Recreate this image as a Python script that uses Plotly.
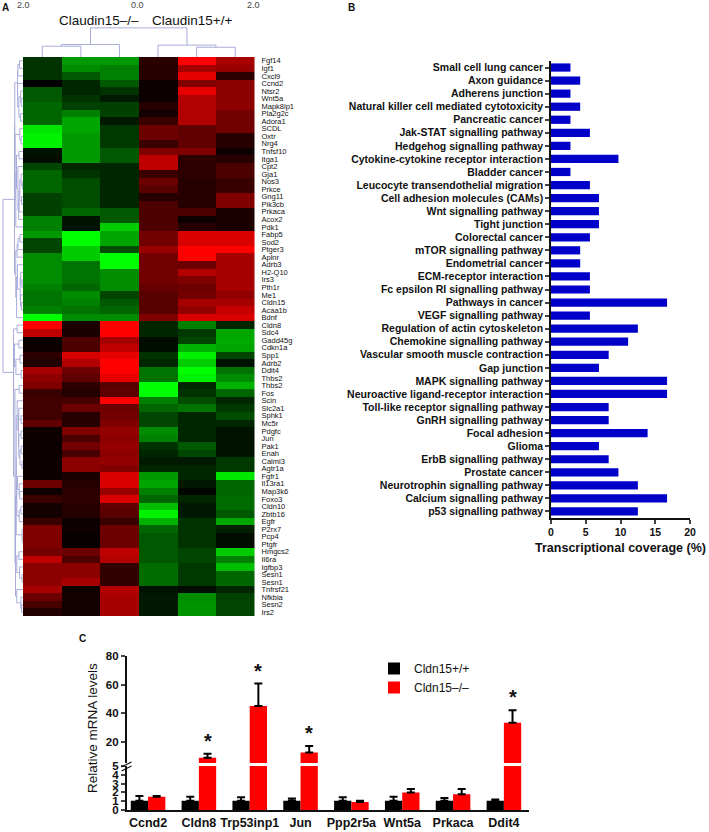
import numpy as np
import plotly.graph_objects as go

W, H = 709, 832
def px(x): return x / W
def py(y): return 1 - y / H

FONT = "Liberation Sans, Arial, Helvetica, sans-serif"

# ---------------- Panel A data ----------------
genes = ["Fgf14", "Igf1", "Cxcl9", "Ccnd2", "Ntsr2", "Wnt5a", "Mapk8ip1", "Pla2g2c", "Adora1", "SCDL",
         "Oxtr", "Nrg4", "Tnfsf10", "Itga1", "Cpt2", "Gja1", "Nos3", "Prkce", "Gng11", "Pik3cb",
         "Prkaca", "Acox2", "Pdk1", "Fabp5", "Sod2", "Ptger3", "Aplnr", "Adrb3", "H2-Q10", "Irs3",
         "Pth1r", "Me1", "Cldn15", "Acaa1b", "Bdnf", "Cldn8", "Sdc4", "Gadd45g", "Cdkn1a", "Spp1",
         "Adrb2", "Ddit4", "Thbs2", "Thbs2", "Fos", "Scin", "Slc2a1", "Sphk1", "Mc5r", "Pdgfc",
         "Jun", "Pak1", "Enah", "Calml3", "Agtr1a", "Fgfr1", "Il13ra1", "Map3k6", "Foxo3", "Cldn10",
         "Zbtb16", "Egfr", "P2rx7", "Pcp4", "Ptgfr", "Hmgcs2", "Il6ra", "Igfbp3", "Sesn1", "Sesn1",
         "Tnfrsf21", "Nfkbia", "Sesn2", "Irs2"]
samples = ["KO1", "KO2", "KO3", "WT1", "WT2", "WT3"]
expr = [
    [-0.4, -1.2, -1.2, 0.35, 2.0, 1.3],
    [-0.4, -1.1, -1.0, 0.3, 1.3, 1.2],
    [-0.4, -0.7, -1.0, 0.3, 1.8, 0.35],
    [0.0, -0.3, -0.7, 0.1, 1.0, 1.1],
    [-0.7, -0.3, -0.4, 0.1, 1.8, 1.1],
    [-0.7, -0.4, -0.2, 0.1, 1.4, 1.1],
    [-0.8, -0.5, -0.5, 0.3, 1.4, 1.1],
    [-0.8, -1.0, -0.5, 0.15, 1.4, 0.9],
    [-0.8, -1.3, -0.2, 0.45, 1.4, 0.9],
    [-1.8, -1.3, -0.45, 0.85, 0.75, 0.9],
    [-1.9, -1.2, -0.45, 0.85, 0.75, 0.3],
    [-1.9, -1.2, -0.45, 0.45, 0.75, 0.3],
    [-0.15, -1.2, -0.7, 1.0, 1.0, 0.1],
    [-0.1, -1.2, -0.7, 1.5, 0.35, 0.3],
    [-0.55, -0.3, -0.3, 1.5, 0.35, 0.6],
    [-0.8, -0.4, -0.3, 0.45, 0.35, 0.6],
    [-0.8, -0.6, -0.3, 0.85, 0.3, 0.45],
    [-0.8, -0.6, -0.3, 0.7, 0.3, 0.45],
    [-0.5, -0.6, -0.3, 0.3, 0.3, 1.0],
    [-0.5, -0.6, -0.3, 0.6, 0.3, 1.0],
    [-0.5, -0.8, -0.7, 0.6, 0.6, 0.2],
    [-1.0, -0.15, -0.7, 0.6, 0.1, 0.2],
    [-1.0, -0.15, -1.6, 0.6, 0.3, 0.2],
    [-1.2, -2.0, -1.3, 0.9, 1.7, 1.7],
    [-0.55, -2.0, -1.3, 0.9, 1.7, 1.7],
    [-0.55, -1.6, -0.6, 1.2, 2.0, 2.0],
    [-1.1, -1.6, -2.0, 0.9, 2.0, 1.3],
    [-1.1, -0.9, -2.0, 0.9, 0.85, 1.3],
    [-1.1, -0.9, -1.1, 0.9, 1.4, 1.3],
    [-1.1, -0.9, -1.1, 0.9, 1.0, 1.3],
    [-1.0, -0.8, -1.1, 0.8, 0.85, 1.3],
    [-0.9, -1.1, -0.55, 0.7, 0.9, 1.15],
    [-0.9, -1.0, -0.7, 0.7, 1.3, 1.3],
    [-1.0, -0.9, -0.8, 0.7, 1.15, 1.55],
    [-2.0, -1.1, -1.1, 1.0, 1.7, 1.7],
    [2.0, 0.2, 2.0, -0.3, -1.0, -0.3],
    [1.5, 0.2, 2.0, -0.3, -0.45, -1.3],
    [0.05, 0.6, 1.3, -0.1, -0.55, -1.35],
    [0.1, 0.6, 1.5, -0.1, -1.4, -1.3],
    [0.35, 1.7, 1.8, -0.4, -1.9, -0.55],
    [0.25, 1.4, 2.0, -0.3, -1.6, -0.15],
    [1.3, 0.85, 2.0, -0.9, -2.0, -0.9],
    [1.1, 0.75, 1.8, -0.9, -1.9, -1.1],
    [1.0, 0.35, 0.7, -2.0, -0.3, -1.4],
    [0.45, 0.3, 0.75, -2.0, -0.4, -0.8],
    [0.5, 0.55, 2.0, -1.0, -0.6, -0.3],
    [0.5, 0.85, 0.85, -0.8, -0.9, -0.45],
    [0.5, 0.3, 0.9, -0.55, -0.3, -0.6],
    [0.75, 0.3, 1.0, -0.55, -0.3, -0.3],
    [0.1, 1.0, 1.15, -1.1, -0.3, -0.15],
    [0.1, 0.6, 1.1, -1.0, -0.3, -0.15],
    [0.1, 0.9, 1.15, -0.4, -0.7, -0.15],
    [0.1, 0.55, 1.1, -0.3, -0.55, -0.15],
    [0.1, 1.1, 1.15, -0.2, -0.2, -0.45],
    [0.1, 1.1, 1.0, -0.3, -0.3, -0.45],
    [0.1, 0.2, 1.7, -1.2, -0.3, -1.8],
    [0.85, 0.3, 1.7, -1.3, -0.2, -0.8],
    [0.1, 0.35, 1.2, -1.0, -0.05, -0.8],
    [0.45, 0.35, 1.7, -0.8, -0.3, -0.85],
    [0.15, 0.3, 0.75, -1.5, -0.2, -0.85],
    [0.15, 0.3, 0.7, -1.9, -0.2, -0.7],
    [0.45, 0.1, 0.45, -1.4, -0.4, -1.3],
    [1.0, 0.1, 0.85, -0.8, -0.4, -0.25],
    [1.0, 0.05, 0.85, -0.7, -0.4, -0.1],
    [1.0, 0.05, 0.85, -0.7, -0.4, -0.1],
    [0.9, 0.85, 1.5, -0.7, -0.55, -1.6],
    [1.5, 0.6, 1.4, -0.7, -0.55, -1.0],
    [1.1, 1.1, 0.4, -0.85, -0.45, -1.5],
    [1.1, 1.1, 0.4, -0.85, -0.45, -0.8],
    [1.1, 1.3, 0.4, -0.85, -0.45, -0.8],
    [1.3, 0.1, 1.4, -0.15, -0.1, -0.3],
    [0.85, 0.15, 1.3, -0.2, -1.1, -0.5],
    [0.55, 0.15, 1.3, -0.2, -1.15, -0.55],
    [0.25, 0.15, 1.3, -0.2, -1.15, -0.55],
]
group_labels = ["Claudin15\u2013/\u2013", "Claudin15+/+"]
key_labels = ["2.0", "0.0", "2.0"]

# ---------------- Panel B data ----------------
pathways = ["Small cell lung cancer", "Axon guidance", "Adherens junction",
            "Natural killer cell mediated cytotoxicity", "Pancreatic cancer", "Jak-STAT signalling pathway",
            "Hedgehog signalling pathway", "Cytokine-cytokine receptor interaction", "Bladder cancer",
            "Leucocyte transendothelial migration", "Cell adhesion molecules (CAMs)", "Wnt signalling pathway",
            "Tight junction", "Colorectal cancer", "mTOR signalling pathway", "Endometrial cancer",
            "ECM-receptor interaction", "Fc epsilon RI signalling pathway", "Pathways in cancer",
            "VEGF signalling pathway", "Regulation of actin cytoskeleton", "Chemokine signalling pathway",
            "Vascular smooth muscle contraction", "Gap junction", "MAPK signalling pathway",
            "Neuroactive ligand-receptor interaction", "Toll-like receptor signalling pathway",
            "GnRH signalling pathway", "Focal adhesion", "Glioma", "ErbB signalling pathway",
            "Prostate cancer", "Neurotrophin signalling pathway", "Calcium signalling pathway",
            "p53 signalling pathway"]
coverage = [2.8, 4.2, 2.8, 4.2, 2.8, 5.6, 2.8, 9.7, 2.8, 5.6, 6.9, 6.9, 6.9, 5.6, 4.2, 4.2,
            5.6, 5.6, 16.7, 5.6, 12.5, 11.1, 8.3, 6.9, 16.7, 16.7, 8.3, 8.3, 13.9, 6.9, 8.3,
            9.7, 12.5, 16.7, 12.5]
coverage_ticks = [0, 5, 10, 15, 20]

# ---------------- Panel C data ----------------
qpcr_genes = ["Ccnd2", "Cldn8", "Trp53inp1", "Jun", "Ppp2r5a", "Wnt5a", "Prkaca", "Ddit4"]
wt_mean = [1.05, 1.05, 1.05, 1.05, 1.05, 1.05, 1.05, 1.05]
wt_err = [0.55, 0.45, 0.4, 0.25, 0.4, 0.45, 0.3, 0.15]
ko_mean = [1.5, 8.6, 44.9, 12.3, 0.9, 2.0, 1.8, 33.3]
ko_err = [0.1, 2.8, 15.8, 4.7, 0.15, 0.4, 0.6, 8.7]
significant = [False, True, True, True, False, False, False, True]
low_ticks = [0, 1, 2, 3, 4, 5]
high_ticks = [20, 40, 60, 80]


# ---------------- order-preserving average-linkage dendrogram ----------------
def adjacent_linkage(vectors):
    v = np.asarray(vectors, float)
    n = len(v)
    D = np.sqrt(((v[:, None, :] - v[None, :, :]) ** 2).sum(-1))
    clusters = [dict(m=[i], pos=float(i), h=0.0) for i in range(n)]
    segs = []
    top = 0.0
    while len(clusters) > 1:
        best = None
        for k in range(len(clusters) - 1):
            a, b = clusters[k], clusters[k + 1]
            d = D[np.ix_(a["m"], b["m"])].mean()
            if best is None or d < best[0]:
                best = (d, k)
        d, k = best
        a, b = clusters[k], clusters[k + 1]
        h = max(d, a["h"], b["h"])
        segs.append([(a["pos"], a["h"]), (a["pos"], h), (b["pos"], h), (b["pos"], b["h"])])
        clusters[k:k + 2] = [dict(m=a["m"] + b["m"], pos=(a["pos"] + b["pos"]) / 2, h=h)]
        top = h
    return segs, top


M = np.array(expr)
row_segs, row_top = adjacent_linkage(M)
col_segs, col_top = adjacent_linkage(M.T)

DENDRO = "#a9acd9"
fig = go.Figure()

# heatmap
fig.add_trace(go.Heatmap(
    z=expr, x=list(range(len(samples))), y=list(range(len(genes))),
    colorscale=[[0, "#00ff00"], [0.5, "#000000"], [1, "#ff0000"]],
    zmin=-2, zmax=2, showscale=False, xaxis="x", yaxis="y", hoverinfo="skip"))

# column dendrogram
cx, cy = [], []
for s in col_segs:
    for p in s:
        cx.append(p[0]); cy.append(p[1])
    cx.append(None); cy.append(None)
fig.add_trace(go.Scatter(x=cx, y=cy, mode="lines", line=dict(color=DENDRO, width=1),
                         xaxis="x2", yaxis="y2", showlegend=False, hoverinfo="skip"))

# row dendrogram
rx, ry = [], []
for s in row_segs:
    for p in s:
        ry.append(p[0]); rx.append(p[1])
    rx.append(None); ry.append(None)
fig.add_trace(go.Scatter(x=rx, y=ry, mode="lines", line=dict(color=DENDRO, width=1),
                         xaxis="x3", yaxis="y3", showlegend=False, hoverinfo="skip"))

# panel B bars
fig.add_trace(go.Bar(x=coverage, y=list(range(len(pathways))), orientation="h", width=0.63,
                     marker=dict(color="#0000c8", line=dict(width=0)),
                     xaxis="x4", yaxis="y4", showlegend=False, hoverinfo="skip"))

# panel C bars (lower and upper segments)
xi = list(range(len(qpcr_genes)))
BW = 0.34
for xa, ya, show in (("x5", "y5", True), ("x6", "y6", False)):
    fig.add_trace(go.Bar(x=xi, y=wt_mean, width=BW, offset=-BW, name="Cldn15+/+",
                         marker=dict(color="#000000", line=dict(width=0)),
                         error_y=dict(type="data", array=wt_err, arrayminus=[0] * len(xi),
                                      symmetric=False, color="#000000", thickness=2, width=4),
                         xaxis=xa, yaxis=ya, showlegend=show, hoverinfo="skip"))
    fig.add_trace(go.Bar(x=xi, y=ko_mean, width=BW, offset=0, name="Cldn15\u2013/\u2013",
                         marker=dict(color="#ff0000", line=dict(width=0)),
                         error_y=dict(type="data", array=ko_err, arrayminus=[0] * len(xi),
                                      symmetric=False, color="#000000", thickness=2, width=4),
                         xaxis=xa, yaxis=ya, showlegend=show, hoverinfo="skip"))

hide = dict(visible=False, showgrid=False, zeroline=False, automargin=False)
bold = dict(family=FONT, color="#111111", weight="bold")
axline = dict(showline=True, linecolor="#111111", linewidth=1.5, showgrid=False, zeroline=False,
              automargin=False)

fig.update_layout(
    width=W, height=H, margin=dict(l=0, r=0, t=0, b=0, autoexpand=False),
    paper_bgcolor="white", plot_bgcolor="rgba(0,0,0,0)",
    font=dict(family=FONT, color="#111111"),
    barmode="overlay",
    xaxis=dict(domain=[px(23), px(254.5)], range=[-0.5, 5.5], anchor="y", **hide),
    yaxis=dict(domain=[py(616), py(57)], range=[len(genes) - 0.5, -0.5], anchor="x", side="right",
               tickmode="array", tickvals=list(range(len(genes))), ticktext=genes,
               tickfont=dict(family=FONT, size=7.5, color="#111111"), ticks="",
               ticklabelstandoff=6, showline=False, showgrid=False, zeroline=False, automargin=False),
    xaxis2=dict(domain=[px(23), px(254.5)], range=[-0.5, 5.5], anchor="y2", **hide),
    yaxis2=dict(domain=[py(57), py(27)], range=[0, col_top * 1.03], anchor="x2", **hide),
    xaxis3=dict(domain=[0, px(23)], range=[row_top * 1.15, 0], anchor="y3", **hide),
    yaxis3=dict(domain=[py(616), py(57)], range=[len(genes) - 0.5, -0.5], anchor="x3", **hide),
    xaxis4=dict(domain=[px(551), px(690)], range=[0, 20], anchor="y4",
                tickmode="array", tickvals=coverage_ticks, ticks="outside", ticklen=4, tickwidth=1.5,
                tickfont=dict(size=10.5, **bold), tickangle=0,
                title=dict(text="Transcriptional coverage (%)", font=dict(size=12.5, **bold), standoff=6),
                **axline),
    yaxis4=dict(domain=[py(518), py(61)], range=[len(pathways) - 0.5, -0.5], anchor="x4",
                tickmode="array", tickvals=list(range(len(pathways))), ticktext=pathways,
                ticks="outside", ticklen=4, tickwidth=1.5,
                tickfont=dict(size=10.5, **bold), **axline),
    xaxis5=dict(domain=[px(126.7), px(529.3)], range=[-0.42, 7.5], anchor="y5",
                tickmode="array", tickvals=xi, ticktext=qpcr_genes, ticks="", tickangle=0,
                tickfont=dict(size=12.5, **bold), **axline),
    yaxis5=dict(domain=[py(810), py(766)], range=[0, 5], anchor="x5",
                tickmode="array", tickvals=low_ticks, ticks="outside", ticklen=4, tickwidth=1.5,
                tickfont=dict(size=11.5, **bold), **axline),
    xaxis6=dict(domain=[px(126.7), px(529.3)], range=[-0.42, 7.5], anchor="y6", **hide),
    yaxis6=dict(domain=[py(763), py(656)], range=[5, 80], anchor="x6",
                tickmode="array", tickvals=high_ticks, ticks="outside", ticklen=4, tickwidth=1.5,
                tickfont=dict(size=11.5, **bold), **axline),
    legend=dict(x=px(374), y=py(654), xanchor="left", yanchor="top", bgcolor="rgba(0,0,0,0)",
                font=dict(family=FONT, size=12, color="#111111"), tracegroupgap=0),
)

ann = []
def label(text, x, y, size, b=False, color="#111111", angle=0):
    ann.append(dict(text=text, x=px(x), y=py(y), xref="paper", yref="paper", showarrow=False,
                    xanchor="center", yanchor="middle", textangle=angle,
                    font=dict(family=FONT, size=size, color=color, weight="bold" if b else "normal")))

label("A", 5, 7, 10, True)
label("B", 351, 7, 10, True)
label("C", 82, 638, 10, True)
for t, x in zip(key_labels, [23, 137, 253]):
    label(t, x, 5, 9, color="#444444")
label(group_labels[0], 99, 21, 13.5)
label(group_labels[1], 192, 21, 13.5)
label("Relative mRNA levels", 92, 728, 13.5, angle=-90)

for i, sig in enumerate(significant):
    if sig:
        ann.append(dict(text="*", x=i + BW / 2, y=ko_mean[i] + ko_err[i], xref="x6", yref="y6",
                        showarrow=False, xanchor="center", yanchor="bottom", yshift=0,
                        font=dict(family=FONT, size=20, color="#111111", weight="bold")))
fig.update_layout(annotations=ann)

# axis-break marks on panel C y axis
for dy in (0, 4):
    fig.add_shape(type="line", xref="paper", yref="paper",
                  x0=px(121.5), x1=px(131.5), y0=py(767 + dy), y1=py(762 + dy),
                  line=dict(color="#111111", width=1.2))

fig.write_html("out.html", config={"displayModeBar": False},
               post_script="document.body.style.margin='0';document.body.style.padding='0';")
